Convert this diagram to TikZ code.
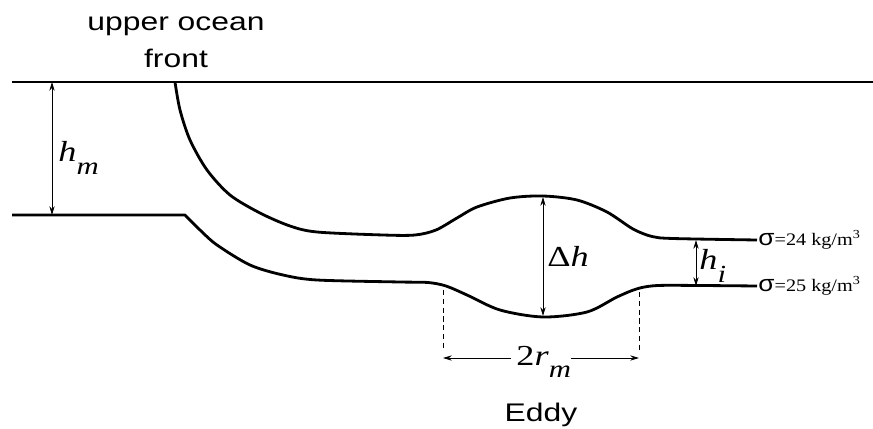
\documentclass[tikz,border=0pt]{standalone}
\usepackage{fontspec}
\setmainfont{Liberation Serif}
\setsansfont{Liberation Sans}
\usetikzlibrary{arrows.meta, positioning}
\newcommand{\sublbl}[2]{\textit{#1}\raisebox{-0.42em}{\fontsize{14}{14}\selectfont\textit{#2}}}

\begin{document}
\begin{tikzpicture}[x=0.02cm, y=-0.02cm,
    iso/.style={line width=1.6pt, line join=round},
    dim/.style={{Stealth[length=5pt,width=3pt]}-{Stealth[length=5pt,width=3pt]}, line width=0.5pt},
    dimhalf/.style={-{Stealth[length=5pt,width=3pt]}, line width=0.5pt},
    guide/.style={dashed, dash pattern=on 3pt off 2pt, line width=0.5pt},
    txt/.style={font=\sffamily\fontsize{14.5}{21}\selectfont, xscale=1.25, align=center},
    mathlbl/.style={font=\fontsize{16.5}{18}\selectfont, xscale=1.25, inner sep=0, anchor=base west},
    siglbl/.style={font=\fontsize{10}{12}\selectfont, xscale=1.15, inner sep=0.5pt, anchor=west}
]
\useasboundingbox (0,0) rectangle (873,429);

% surface and the two isopycnals
\coordinate (surfL) at (12,82);
\coordinate (surfR) at (873,82);
\draw[iso] (surfL) -- (surfR);
\draw[iso] plot[smooth] coordinates {(175,82) (180,110) (190,140) (207,170) (230,195) (260,213)
    (290,226) (317,232) (383,235) (415,235) (436,230) (457,218) (477,207) (510,198) (543,196)
    (577,200) (607,212) (633,229) (652,236.5) (673,238.5) (757,240)} coordinate (up);
\draw[iso] (12,215) -- plot[smooth] coordinates {(185,215) (200,230) (217,245) (250,265) (283,275)
    (317,280) (400,282) (428,282.5) (446,286) (467,295) (500,310) (543,317) (587,312) (617,297)
    (638,288.5) (658,285.5) (700,285.5) (757,286)} coordinate (lo);

% labels
\node[txt] (front) at (176,42) {upper ocean\\front};
\node[txt, anchor=base] (eddy) at (541,421) {Eddy};
\node[siglbl] (sig24) at (up) {{\sffamily\fontsize{13}{13}\selectfont σ}=24 kg/m\textsuperscript{3}};
\node[siglbl] (sig25) at (lo) {{\sffamily\fontsize{13}{13}\selectfont σ}=25 kg/m\textsuperscript{3}};

% thickness markers
\coordinate (hmT) at (52,82);
\coordinate (hmB) at (52,215);
\draw[dim] (hmT) -- (hmB);
\node[mathlbl] (hm) at (58,162) {\sublbl{h}{m}};

\coordinate (dhT) at (543,197);
\coordinate (dhB) at (543,316);
\draw[dim] (dhT) -- (dhB);
\node[mathlbl] (dh) at (547,266) {Δ\textit{h}};

\coordinate (hiT) at (696,240);
\coordinate (hiB) at (696,286);
\draw[dim] (hiT) -- (hiB);
\node[mathlbl] (hi) at (699,270) {\sublbl{h}{i}};

% eddy radius
\coordinate (gL) at (443,290);
\coordinate (gLb) at (443,350);
\coordinate (gR) at (639,292);
\coordinate (gRb) at (639,350);
\draw[guide] (gL) -- (gLb);
\draw[guide] (gR) -- (gRb);
\coordinate (rL) at (443,358);
\coordinate (rR) at (639,358);
\node[mathlbl] (rm) at (516,365) {2\sublbl{r}{m}};
\draw[dimhalf] ([xshift=-3pt]rm.west |- rL) -- (rL);
\draw[dimhalf] (rm.east |- rR) -- (rR);
\end{tikzpicture}
\end{document}
